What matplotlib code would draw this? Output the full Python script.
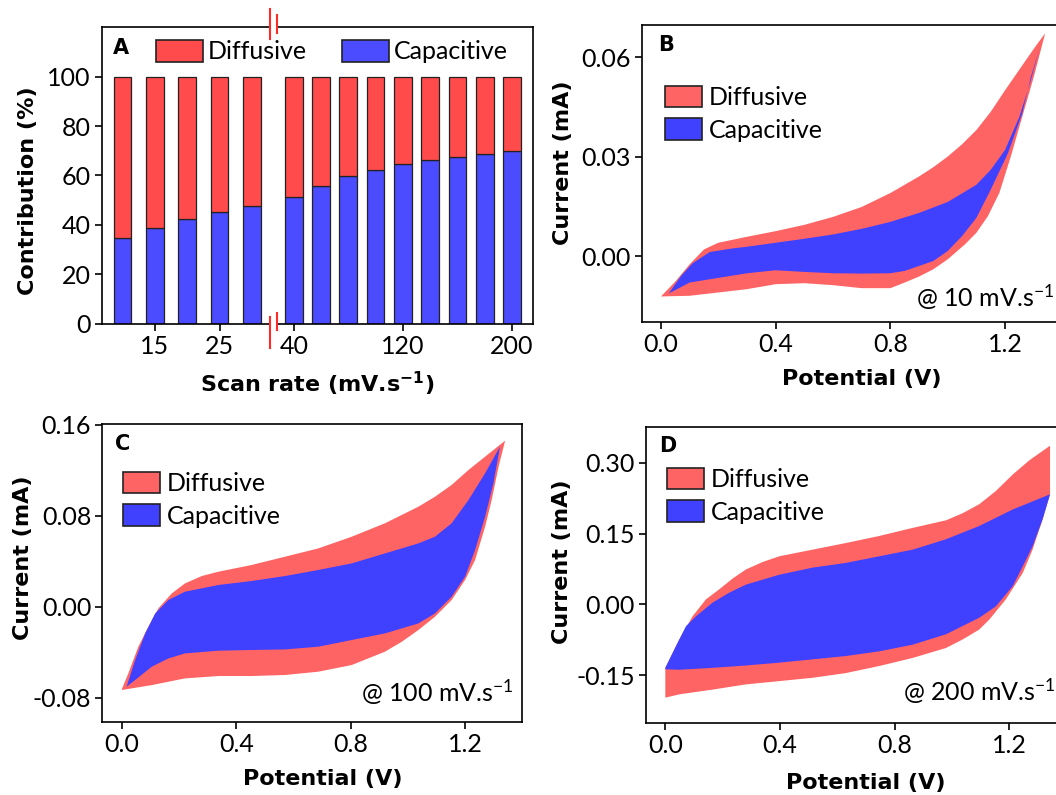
import matplotlib
matplotlib.use("Agg")
import matplotlib.pyplot as plt
import numpy as np
from matplotlib.patches import Patch
from matplotlib.lines import Line2D
from matplotlib.ticker import FormatStrFormatter

plt.rcParams['font.family'] = ['Lato', 'DejaVu Sans']
plt.rcParams['font.size'] = 18
plt.rcParams['axes.unicode_minus'] = False
plt.rcParams['mathtext.default'] = 'regular'
plt.rcParams['axes.linewidth'] = 1.2
plt.rcParams['xtick.major.size'] = 5
plt.rcParams['ytick.major.size'] = 5
plt.rcParams['xtick.major.width'] = 1.2
plt.rcParams['ytick.major.width'] = 1.2
plt.rcParams['xtick.major.pad'] = 3
plt.rcParams['ytick.major.pad'] = 3

# ---- panel A: contribution vs scan rate ----
rates_low = [10, 15, 20, 25, 30]
rates_high = [40, 60, 80, 100, 120, 140, 160, 180, 200]
cap_low = [34.5, 38.9, 42.3, 45.3, 47.6]
cap_high = [51.4, 55.9, 59.9, 62.2, 64.6, 66.1, 67.6, 68.9, 69.9]

# ---- panel B: 10 mV/s ----
b_tot_v_up = [0.0, 0.05, 0.10, 0.15, 0.20, 0.30, 0.40, 0.50, 0.60, 0.70, 0.80, 0.90, 0.95, 1.00, 1.05, 1.10, 1.15, 1.20, 1.24, 1.28, 1.31, 1.34]
b_tot_i_up = [-0.0122, -0.0077, -0.0025, 0.0020, 0.0040, 0.0058, 0.0075, 0.0094, 0.0118, 0.0148, 0.0190, 0.0240, 0.0268, 0.0300, 0.0337, 0.0380, 0.0435, 0.0500, 0.0550, 0.0600, 0.0637, 0.0672]
b_tot_v_dn = [1.34, 1.30, 1.26, 1.22, 1.18, 1.14, 1.10, 1.06, 1.00, 0.95, 0.90, 0.85, 0.80, 0.70, 0.60, 0.50, 0.40, 0.30, 0.20, 0.10, 0.0]
b_tot_i_dn = [0.0672, 0.0540, 0.0420, 0.0300, 0.0190, 0.0120, 0.0070, 0.0035, -0.0010, -0.0040, -0.0062, -0.0080, -0.0097, -0.0097, -0.0088, -0.0082, -0.0085, -0.0100, -0.0110, -0.0120, -0.0122]
b_cap_v_up = [0.027, 0.07, 0.11, 0.17, 0.25, 0.30, 0.40, 0.50, 0.60, 0.70, 0.80, 0.90, 1.00, 1.10, 1.15, 1.20, 1.25, 1.29, 1.32]
b_cap_i_up = [-0.0113, -0.0060, -0.0022, 0.0012, 0.0023, 0.0028, 0.0040, 0.0052, 0.0065, 0.0082, 0.0103, 0.0130, 0.0163, 0.0215, 0.0260, 0.0320, 0.0420, 0.0530, 0.0626]
b_cap_v_dn = [1.32, 1.29, 1.26, 1.21, 1.15, 1.10, 1.05, 1.00, 0.95, 0.90, 0.85, 0.80, 0.70, 0.60, 0.50, 0.40, 0.30, 0.20, 0.10, 0.027]
b_cap_i_dn = [0.0626, 0.0540, 0.0430, 0.0310, 0.0200, 0.0115, 0.0060, 0.0015, -0.0015, -0.0030, -0.0045, -0.0052, -0.0053, -0.0052, -0.0048, -0.0043, -0.0052, -0.0066, -0.0080, -0.0113]

# ---- panel C: 100 mV/s ----
c_tot_v_up = [0.0, 0.023, 0.058, 0.093, 0.128, 0.175, 0.221, 0.280, 0.338, 0.454, 0.571, 0.687, 0.804, 0.920, 1.037, 1.095, 1.153, 1.212, 1.270, 1.340]
c_tot_i_up = [-0.0728, -0.0587, -0.0352, -0.0176, -0.0015, 0.0117, 0.0205, 0.0270, 0.0308, 0.0367, 0.0440, 0.0513, 0.0616, 0.0734, 0.0880, 0.0968, 0.1071, 0.1203, 0.1320, 0.1461]
c_tot_v_dn = [1.340, 1.317, 1.293, 1.270, 1.235, 1.200, 1.153, 1.095, 1.037, 0.979, 0.920, 0.804, 0.687, 0.571, 0.454, 0.338, 0.221, 0.105, 0.0]
c_tot_i_dn = [0.1461, 0.1232, 0.0939, 0.0704, 0.0411, 0.0235, 0.0059, -0.0088, -0.0205, -0.0308, -0.0396, -0.0513, -0.0572, -0.0601, -0.0610, -0.0610, -0.0631, -0.0690, -0.0733]
c_cap_v_up = [0.017, 0.047, 0.082, 0.117, 0.163, 0.221, 0.338, 0.454, 0.571, 0.687, 0.804, 0.920, 1.037, 1.095, 1.153, 1.212, 1.270, 1.322]
c_cap_i_up = [-0.0704, -0.0469, -0.0235, -0.0059, 0.0059, 0.0132, 0.0191, 0.0226, 0.0270, 0.0323, 0.0381, 0.0469, 0.0557, 0.0616, 0.0734, 0.0939, 0.1174, 0.1408]
c_cap_v_dn = [1.322, 1.299, 1.270, 1.235, 1.200, 1.153, 1.095, 1.037, 0.920, 0.804, 0.687, 0.571, 0.454, 0.338, 0.221, 0.163, 0.105, 0.047, 0.017]
c_cap_i_dn = [0.1408, 0.1086, 0.0792, 0.0499, 0.0264, 0.0088, -0.0059, -0.0147, -0.0235, -0.0293, -0.0352, -0.0376, -0.0381, -0.0387, -0.0411, -0.0455, -0.0528, -0.0645, -0.0704]

# ---- panel D: 200 mV/s ----
d_tot_v_up = [0.0, 0.049, 0.095, 0.142, 0.188, 0.235, 0.281, 0.340, 0.398, 0.514, 0.630, 0.747, 0.863, 0.979, 1.037, 1.095, 1.153, 1.212, 1.270, 1.340]
d_tot_i_up = [-0.134, -0.074, -0.025, 0.011, 0.032, 0.055, 0.074, 0.090, 0.102, 0.116, 0.130, 0.145, 0.162, 0.178, 0.193, 0.212, 0.240, 0.275, 0.305, 0.335]
d_tot_v_dn = [1.342, 1.342, 1.316, 1.281, 1.247, 1.188, 1.130, 1.095, 1.037, 0.979, 0.863, 0.747, 0.630, 0.514, 0.398, 0.281, 0.165, 0.049, 0.0]
d_tot_i_dn = [0.335, 0.233, 0.180, 0.116, 0.067, 0.011, -0.032, -0.053, -0.074, -0.092, -0.113, -0.130, -0.145, -0.155, -0.162, -0.169, -0.180, -0.190, -0.197]
d_cap_v_up = [0.0, 0.037, 0.072, 0.107, 0.165, 0.223, 0.281, 0.398, 0.514, 0.630, 0.747, 0.863, 0.979, 1.095, 1.212, 1.342]
d_cap_i_up = [-0.134, -0.088, -0.046, -0.025, 0.004, 0.025, 0.042, 0.063, 0.078, 0.088, 0.102, 0.116, 0.138, 0.166, 0.201, 0.233]
d_cap_v_dn = [1.342, 1.316, 1.281, 1.247, 1.212, 1.153, 1.095, 0.979, 0.863, 0.747, 0.630, 0.514, 0.398, 0.281, 0.165, 0.049, 0.0]
d_cap_i_dn = [0.233, 0.180, 0.123, 0.081, 0.039, -0.004, -0.028, -0.063, -0.085, -0.099, -0.109, -0.116, -0.123, -0.129, -0.134, -0.138, -0.137]

bar_red, bar_blue = '#ff4b4b', '#4b4bff'
cv_red, cv_blue = '#ff6464', '#4040ff'
edge = '#222222'
bold = dict(family='DejaVu Sans', weight='bold', size=16)

W, H = 1056, 795
fig = plt.figure(figsize=(W / 100, H / 100), dpi=100)


def box(l, t, r, b):
    # pixel box (left, top, right, bottom) -> figure rect
    return [l / W, 1 - b / H, (r - l) / W, (b - t) / H]


# ---------------- panel A (broken x axis) ----------------
axA1 = fig.add_axes(box(101.7, 26.7, 270, 323.5))
axA2 = fig.add_axes(box(277.3, 26.7, 532.7, 323.5))
for ax, rates, cap, wd in [(axA1, rates_low, cap_low, 2.73), (axA2, rates_high, cap_high, 13.0)]:
    diff = [100 - c for c in cap]
    ax.bar(rates, cap, wd, color=bar_blue, edgecolor=edge, linewidth=0.9)
    ax.bar(rates, diff, wd, bottom=cap, color=bar_red, edgecolor=edge, linewidth=0.9)
    ax.set_ylim(0, 120.3)
axA1.set_xlim(6.79, 32.78)
axA2.set_xlim(27.9, 215.2)
axA1.spines['right'].set_visible(False)
axA2.spines['left'].set_visible(False)
axA2.tick_params(axis='y', left=False, labelleft=False)
axA1.set_xticks([15, 25])
axA2.set_xticks([40, 120, 200])
axA1.set_yticks([0, 20, 40, 60, 80, 100])
axA1.set_ylabel('Contribution (%)', **bold)
axA1.yaxis.label.set_va('center')
axA1.yaxis.set_label_coords(-0.435, 0.446)
fig.text(317 / W, 1 - 384 / H, 'Scan rate (mV.s$^{-1}$)', ha='center', va='center', **bold)

# break marks
for x, (t, b) in [(270, (9, 39)), (277.3, (15, 33)), (270, (317, 348)), (277.3, (313, 330))]:
    fig.add_artist(Line2D([x / W, x / W], [1 - t / H, 1 - b / H], color='#ff2a2a', lw=1.5))

for lab, col, x0 in [('Diffusive', bar_red, 155.6), ('Capacitive', bar_blue, 341.6)]:
    fig.legend(handles=[Patch(facecolor=col, edgecolor=edge, linewidth=1.2, label=lab)],
               loc='upper left', bbox_to_anchor=(x0 / W, 1 - 40 / H), frameon=False,
               borderpad=0, borderaxespad=0, handlelength=1.88, handleheight=0.96,
               handletextpad=0.22, fontsize=18)
fig.text(120.5 / W, 1 - 47.5 / H, 'A', ha='center', va='center', family='DejaVu Sans', weight='bold', size=15)

# ---------------- CV panels ----------------
panels = [
    ('B', box(642, 25, 1066, 322.3), (-0.0663, 1.4126), (-0.0200, 0.0697), [0.0, 0.03, 0.06], '%.2f',
     (b_tot_v_up, b_tot_i_up, b_tot_v_dn, b_tot_i_dn), (b_cap_v_up, b_cap_i_up, b_cap_v_dn, b_cap_i_dn),
     '@ 10 mV.s$^{-1}$', (1054, 307), (666, 45), (664.7, 85.7), (-0.1875, 0.5375), (0.519, -0.1907)),
    ('C', box(102.3, 424.3, 522.3, 721.7), (-0.068, 1.400), (-0.1012, 0.1605), [-0.08, 0.0, 0.08, 0.16], '%.2f',
     (c_tot_v_up, c_tot_i_up, c_tot_v_dn, c_tot_i_dn), (c_cap_v_up, c_cap_i_up, c_cap_v_dn, c_cap_i_dn),
     '@ 100 mV.s$^{-1}$', (514, 701.7), (122.5, 443.5), (122.7, 471.7), (-0.188, 0.550), (0.5255, -0.1927)),
    ('D', box(646, 426.7, 1066, 722.7), (-0.0674, 1.3976), (-0.250, 0.376), [-0.15, 0.0, 0.15, 0.30], '%.2f',
     (d_tot_v_up, d_tot_i_up, d_tot_v_dn, d_tot_i_dn), (d_cap_v_up, d_cap_i_up, d_cap_v_dn, d_cap_i_dn),
     '@ 200 mV.s$^{-1}$', (1056, 700.3), (667.5, 445.5), (666.7, 467.7), (-0.199, 0.543), (0.524, -0.2037)),
]

for (letter, rect, xl, yl, yt, yfmt, tot, cap, note, note_xy, let_xy, leg_xy, ylab_xy, xlab_xy) in panels:
    ax = fig.add_axes(rect)
    ax.fill(np.r_[tot[0], tot[2]], np.r_[tot[1], tot[3]], color=cv_red, linewidth=0)
    ax.fill(np.r_[cap[0], cap[2]], np.r_[cap[1], cap[3]], color=cv_blue, linewidth=0)
    ax.set_xlim(*xl)
    ax.set_ylim(*yl)
    ax.set_xticks([0.0, 0.4, 0.8, 1.2])
    ax.set_yticks(yt)
    ax.xaxis.set_major_formatter(FormatStrFormatter('%.1f'))
    ax.yaxis.set_major_formatter(FormatStrFormatter(yfmt))
    ax.set_xlabel('Potential (V)', **bold)
    ax.set_ylabel('Current (mA)', **bold)
    ax.xaxis.label.set_va('center')
    ax.yaxis.label.set_va('center')
    ax.xaxis.set_label_coords(*xlab_xy)
    ax.yaxis.set_label_coords(*ylab_xy)
    ax.legend(handles=[Patch(facecolor=cv_red, edgecolor=edge, linewidth=1.2, label='Diffusive'),
                       Patch(facecolor=cv_blue, edgecolor=edge, linewidth=1.2, label='Capacitive')],
              loc='upper left', bbox_to_anchor=(leg_xy[0] / W, 1 - leg_xy[1] / H),
              bbox_transform=fig.transFigure, frameon=False, borderpad=0, borderaxespad=0,
              handlelength=1.48, handleheight=0.96, handletextpad=0.28, labelspacing=0.36, fontsize=18)
    fig.text(note_xy[0] / W, 1 - note_xy[1] / H, note, ha='right', va='baseline', size=18)
    fig.text(let_xy[0] / W, 1 - let_xy[1] / H, letter, ha='center', va='center',
             family='DejaVu Sans', weight='bold', size=15)

fig.savefig('out.png', dpi=100)
